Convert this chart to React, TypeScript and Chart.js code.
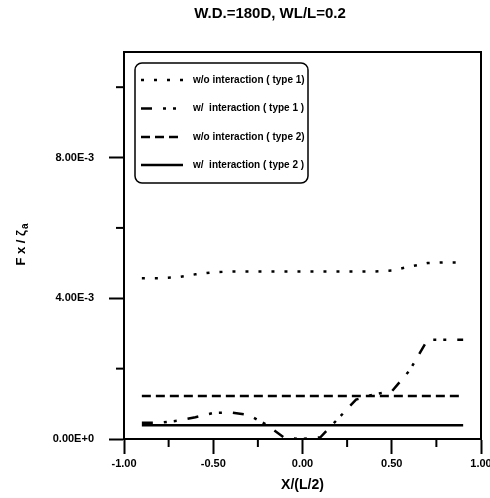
import React, { useEffect, useRef } from 'react';
import { Chart, registerables } from 'chart.js';

Chart.register(...registerables);

const titleText = 'W.D.=180D, WL/L=0.2';
const xAxisTitle = 'X/(L/2)';
const yAxisMain = 'F x / \u03B6';
const yAxisSub = 'a';

const xValues = [-0.9, -0.8, -0.7, -0.6, -0.5, -0.4, -0.3, -0.2, -0.1, 0.0, 0.1, 0.2, 0.3, 0.4, 0.5, 0.6, 0.7, 0.8, 0.9];

const woInteractionType1 = [4.57e-3, 4.57e-3, 4.6e-3, 4.68e-3, 4.74e-3, 4.76e-3, 4.76e-3, 4.76e-3, 4.76e-3, 4.76e-3, 4.76e-3, 4.76e-3, 4.76e-3, 4.76e-3, 4.79e-3, 4.9e-3, 5.0e-3, 5.02e-3, 5.02e-3];
const wInteractionType1 = [0.46e-3, 0.46e-3, 0.52e-3, 0.62e-3, 0.74e-3, 0.75e-3, 0.68e-3, 0.4e-3, 0.03e-3, 0.0, 0.05e-3, 0.58e-3, 1.12e-3, 1.27e-3, 1.35e-3, 1.95e-3, 2.82e-3, 2.82e-3, 2.82e-3];
const woInteractionType2 = [1.22e-3, 1.22e-3, 1.22e-3, 1.22e-3, 1.22e-3, 1.22e-3, 1.22e-3, 1.22e-3, 1.22e-3, 1.22e-3, 1.22e-3, 1.22e-3, 1.22e-3, 1.22e-3, 1.22e-3, 1.22e-3, 1.22e-3, 1.22e-3, 1.22e-3];
const wInteractionType2 = [0.39e-3, 0.39e-3, 0.39e-3, 0.39e-3, 0.39e-3, 0.39e-3, 0.39e-3, 0.39e-3, 0.39e-3, 0.39e-3, 0.39e-3, 0.39e-3, 0.39e-3, 0.39e-3, 0.39e-3, 0.39e-3, 0.39e-3, 0.39e-3, 0.39e-3];

const seriesLabels = ['w/o interaction ( type 1)', 'w/  interaction ( type 1 )', 'w/o interaction ( type 2)', 'w/  interaction ( type 2 )'];
const seriesValues = [woInteractionType1, wInteractionType1, woInteractionType2, wInteractionType2];
const seriesDashes = [[3, 10], [11, 11, 3, 7, 3, 11], [9, 5], []];

const xMin = -1;
const xMax = 1;
const xStep = 0.25;
const yMin = 0;
const yMax = 0.011;
const yStep = 0.002;

const FONT = "'Liberation Sans', Arial, sans-serif";
const NARROW = "'Liberation Sans Narrow', 'Arial Narrow', 'Liberation Sans', sans-serif";

const isMajorX = (v: number) => Math.round(v / xStep) % 2 === 0;
const isMajorY = (v: number) => Math.round(v / yStep) % 2 === 0;

const decorPlugin = {
  id: 'decor',
  afterDraw(chart: any) {
    const { ctx, chartArea: ca, scales } = chart;
    ctx.save();
    ctx.strokeStyle = '#000';
    ctx.fillStyle = '#000';
    ctx.setLineDash([]);
    // frame top and right
    ctx.lineWidth = 2;
    ctx.beginPath();
    ctx.moveTo(ca.left - 1, ca.top);
    ctx.lineTo(ca.right, ca.top);
    ctx.lineTo(ca.right, ca.bottom);
    ctx.stroke();
    // minor ticks
    const xs = scales.x;
    xs.ticks.forEach((t: any) => {
      if (!isMajorX(t.value)) {
        const px = xs.getPixelForValue(t.value);
        ctx.beginPath();
        ctx.moveTo(px, ca.bottom);
        ctx.lineTo(px, ca.bottom + 8);
        ctx.stroke();
      }
    });
    const ys = scales.y;
    ys.ticks.forEach((t: any) => {
      if (!isMajorY(t.value)) {
        const py = ys.getPixelForValue(t.value);
        ctx.beginPath();
        ctx.moveTo(ca.left, py);
        ctx.lineTo(ca.left - 8, py);
        ctx.stroke();
      }
    });
    // title
    ctx.font = `bold 15px ${FONT}`;
    ctx.textAlign = 'center';
    ctx.textBaseline = 'middle';
    ctx.fillText(titleText, 270, 14);
    // x axis title
    ctx.font = `bold 14px ${FONT}`;
    ctx.fillText(xAxisTitle, (ca.left + ca.right) / 2, 485);
    // y axis title
    ctx.save();
    ctx.translate(21, 245);
    ctx.rotate(-Math.PI / 2);
    ctx.font = `bold 13px ${FONT}`;
    const wMain = ctx.measureText(yAxisMain).width;
    ctx.font = `bold 10px ${FONT}`;
    const wSub = ctx.measureText(yAxisSub).width;
    const start = -(wMain + wSub) / 2;
    ctx.textAlign = 'left';
    ctx.font = `bold 13px ${FONT}`;
    ctx.fillText(yAxisMain, start, 0);
    ctx.font = `bold 10px ${FONT}`;
    ctx.fillText(yAxisSub, start + wMain + 1, 4);
    ctx.restore();
    // legend
    const bx = ca.left + 11;
    const by = ca.top + 11;
    const bw = 173;
    const bh = 120;
    ctx.lineWidth = 1.5;
    ctx.beginPath();
    ctx.roundRect(bx, by, bw, bh, 7);
    ctx.stroke();
    const rows = [17, 45.5, 74, 102];
    chart.data.datasets.forEach((ds: any, i: number) => {
      const y = by + rows[i];
      ctx.lineWidth = 2.5;
      ctx.setLineDash(ds.borderDash || []);
      ctx.beginPath();
      ctx.moveTo(bx + 6, y);
      ctx.lineTo(bx + 48, y);
      ctx.stroke();
      ctx.setLineDash([]);
      ctx.font = `bold 10px ${NARROW}`;
      ctx.textAlign = 'left';
      ctx.textBaseline = 'middle';
      ctx.fillText(ds.label, bx + 58, y);
    });
    ctx.restore();
  },
};

export default function App() {
  const canvasRef = useRef<HTMLCanvasElement | null>(null);

  useEffect(() => {
    const canvas = canvasRef.current;
    if (!canvas) return;
    const chart = new Chart(canvas, {
      type: 'line',
      data: {
        datasets: seriesValues.map((vals, i) => ({
          label: seriesLabels[i],
          data: xValues.map((x, j) => ({ x, y: vals[j] })),
          borderColor: '#000',
          borderWidth: 2.5,
          borderDash: seriesDashes[i],
          pointRadius: 0,
          tension: 0,
          fill: false,
        })),
      },
      options: {
        animation: false,
        responsive: false,
        events: [],
        layout: { padding: { top: 52, right: 9, left: 0, bottom: 0 } },
        plugins: {
          legend: { display: false },
          title: { display: false },
          tooltip: { enabled: false },
        },
        scales: {
          x: {
            type: 'linear',
            min: xMin,
            max: xMax,
            ticks: {
              stepSize: xStep,
              includeBounds: false,
              autoSkip: false,
              maxRotation: 0,
              padding: 3,
              color: '#000',
              font: { family: FONT, size: 11, weight: 'bold' },
              callback: (v: any) => {
                const n = Number(v);
                if (!isMajorX(n)) return '';
                const r = Math.round(n / xStep) * xStep;
                return (Math.abs(r) < 1e-9 ? 0 : r).toFixed(2);
              },
            },
            grid: {
              drawOnChartArea: false,
              drawTicks: true,
              tickLength: 15,
              tickWidth: 2,
              tickColor: (c: any) => (c.tick && isMajorX(c.tick.value) ? '#000' : 'rgba(0,0,0,0)'),
            },
            border: { display: true, color: '#000', width: 2 },
            afterFit: (s: any) => {
              s.height = 59;
              s.paddingLeft = 0;
              s.paddingRight = 0;
            },
          },
          y: {
            type: 'linear',
            min: yMin,
            max: yMax,
            ticks: {
              stepSize: yStep,
              includeBounds: false,
              autoSkip: false,
              padding: 15,
              color: '#000',
              font: { family: FONT, size: 11, weight: 'bold' },
              callback: (v: any) => {
                const n = Number(v);
                if (!isMajorY(n)) return '';
                const k = Math.round(n / yStep);
                return (k * yStep).toExponential(2).toUpperCase();
              },
            },
            grid: {
              drawOnChartArea: false,
              drawTicks: true,
              tickLength: 15,
              tickWidth: 2,
              tickColor: (c: any) => (c.tick && isMajorY(c.tick.value) ? '#000' : 'rgba(0,0,0,0)'),
            },
            border: { display: true, color: '#000', width: 2 },
            afterFit: (s: any) => {
              s.width = 124;
              s.paddingTop = 0;
              s.paddingBottom = 0;
            },
          },
        },
      },
      plugins: [decorPlugin],
    } as any);
    return () => chart.destroy();
  }, []);

  return (
    <div style={{ position: 'absolute', left: 0, top: 0, width: 490, height: 498, background: '#fff' }}>
      <canvas ref={canvasRef} width={490} height={498} style={{ display: 'block', width: 490, height: 498 }} />
    </div>
  );
}
